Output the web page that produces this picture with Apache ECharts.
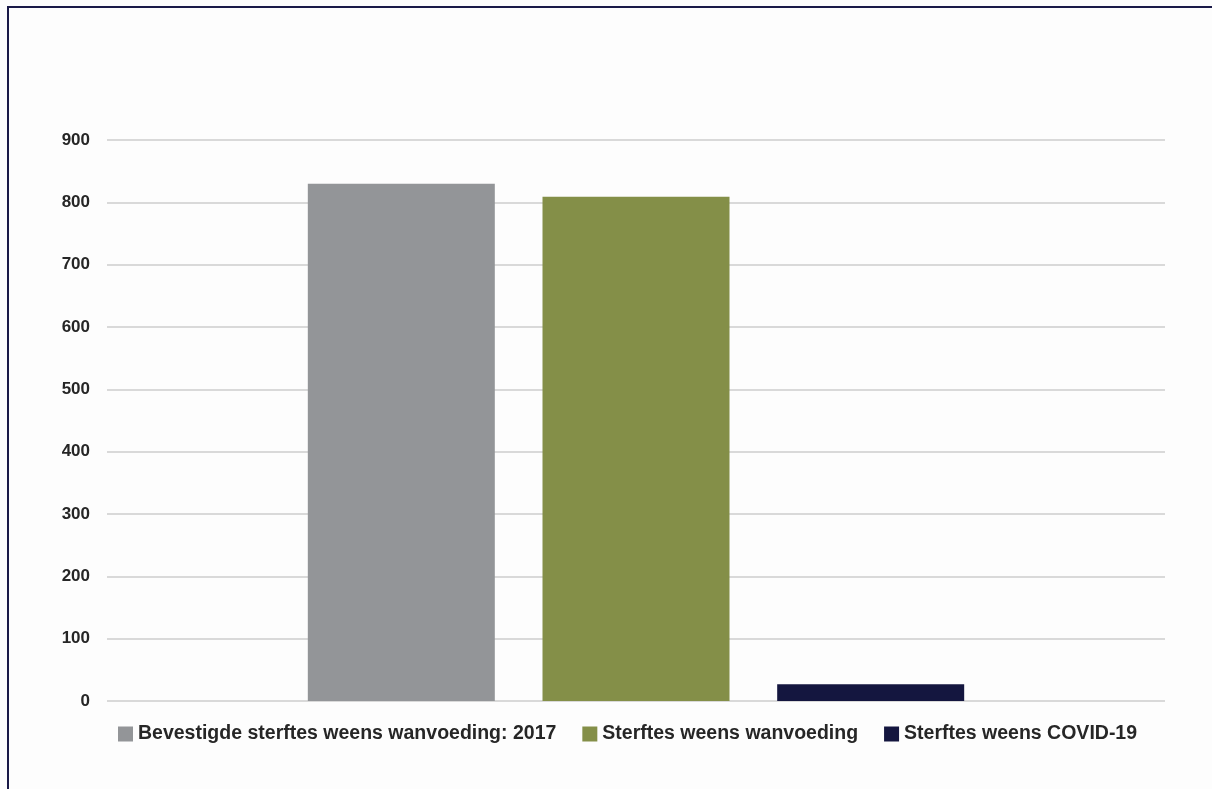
<!DOCTYPE html>
<html>
<head>
<meta charset="utf-8">
<script src="https://cdn.jsdelivr.net/npm/echarts@6/dist/echarts.min.js"></script>
<style>
html,body{margin:0;padding:0;background:#fdfdfd;}
#chart{width:1212px;height:789px;}
</style>
</head>
<body>
<div id="chart"></div>
<script>
const categories = [''];
const seriesNames = ['Bevestigde sterftes weens wanvoeding: 2017', 'Sterftes weens wanvoeding', 'Sterftes weens COVID-19'];
const seriesValues = [830, 809, 27];
const seriesColors = ['#939598', '#848f48', '#14163f'];
const yTicks = { min: 0, max: 900, interval: 100 };

const chart = echarts.init(document.getElementById('chart'));
const series = seriesNames.map((name, i) => ({
  name: name,
  type: 'bar',
  data: [seriesValues[i]],
  barWidth: 187,
  barGap: '25.5%',
  itemStyle: { color: seriesColors[i] }
}));

chart.setOption({
  backgroundColor: '#fdfdfd',
  animation: false,
  grid: { left: 107, right: 47, top: 140, bottom: 88, containLabel: false },
  legend: {
    data: seriesNames,
    left: 113,
    top: 719,
    itemWidth: 15,
    itemHeight: 15,
    itemGap: 26,
    icon: 'rect',
    textStyle: { color: '#262626', fontSize: 19.5, fontWeight: 'bold', fontFamily: 'Liberation Sans, Arial, sans-serif' }
  },
  xAxis: {
    type: 'category',
    data: categories,
    axisLine: { show: false },
    axisTick: { show: false },
    axisLabel: { show: false }
  },
  yAxis: {
    type: 'value',
    min: yTicks.min,
    max: yTicks.max,
    interval: yTicks.interval,
    axisLine: { show: false },
    axisTick: { show: false },
    axisLabel: { color: '#262626', fontSize: 17, fontWeight: 'bold', margin: 17, fontFamily: 'Liberation Sans, Arial, sans-serif' },
    splitLine: { lineStyle: { color: '#d9d9d9', width: 2 } }
  },
  graphic: [{
    type: 'rect',
    silent: true,
    shape: { x: 8, y: 7, width: 1230, height: 810 },
    style: { fill: 'none', stroke: '#1a1a48', lineWidth: 2 }
  }],
  series: series
});
</script>
</body>
</html>
